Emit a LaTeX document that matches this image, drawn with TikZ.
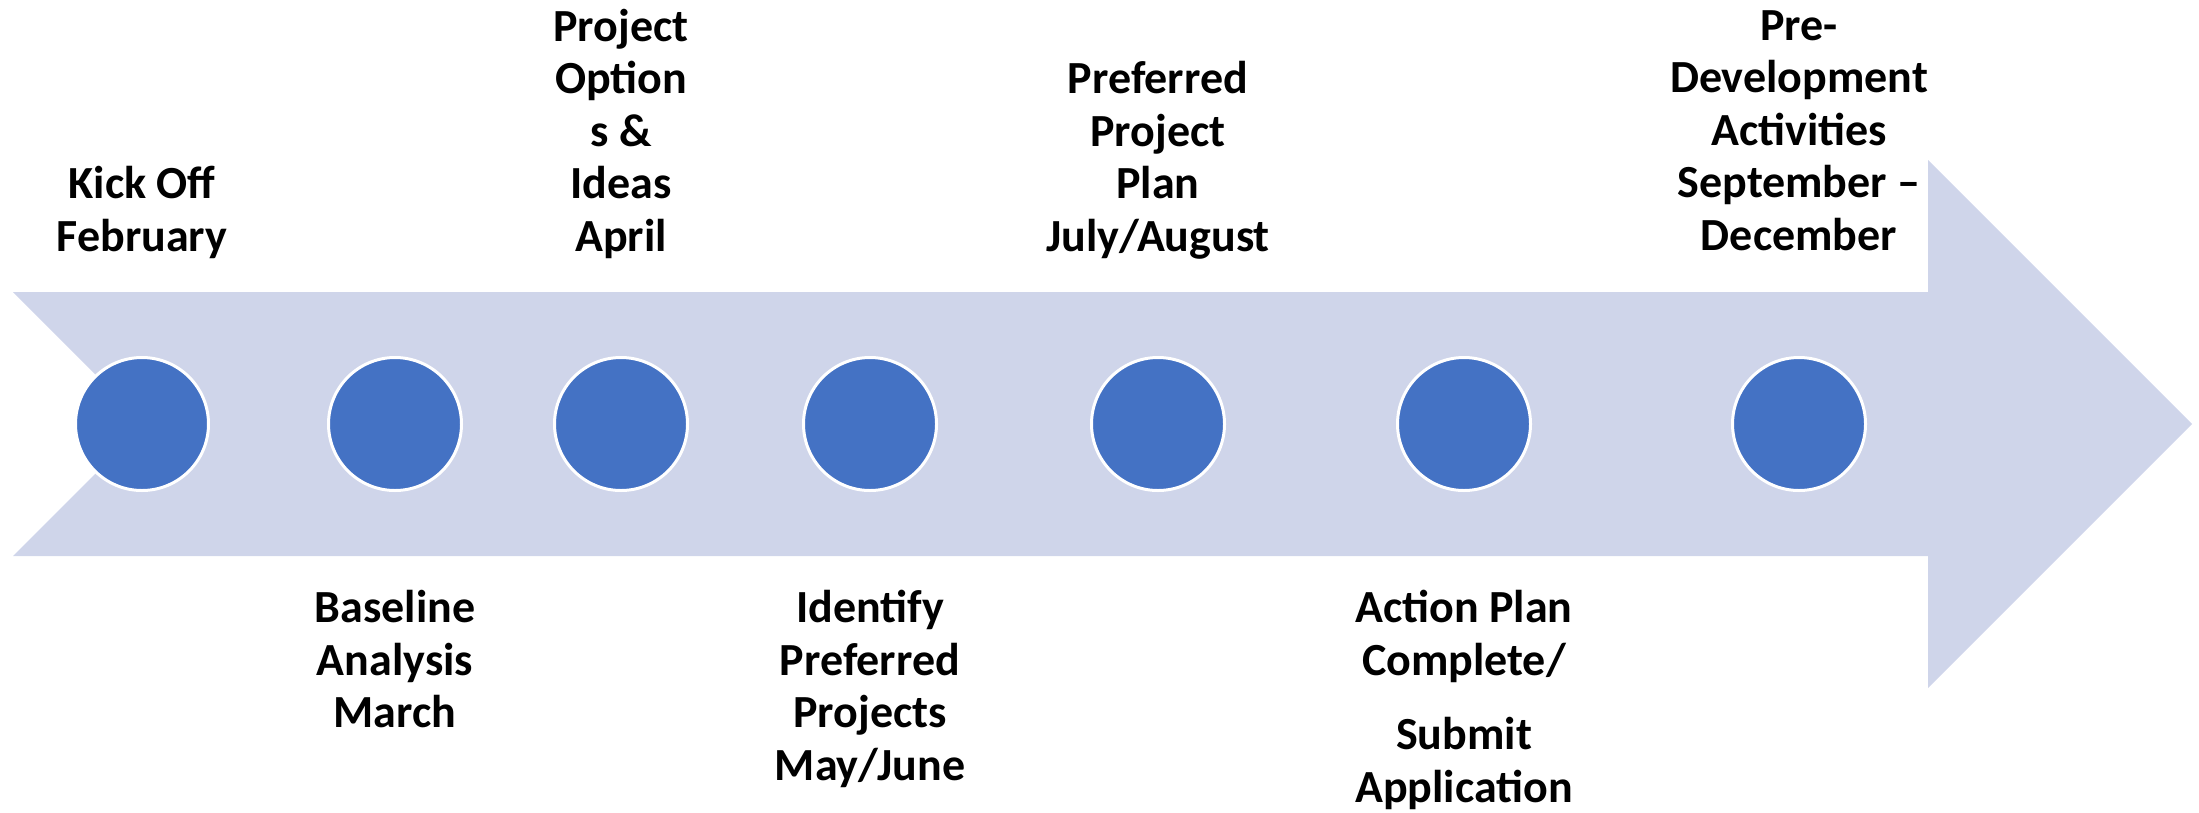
\documentclass[tikz,border=0pt]{standalone}
\usepackage{fontspec}
\setmainfont{Carlito}
\definecolor{arrowfill}{HTML}{CFD5EA}
\definecolor{dotblue}{HTML}{4472C4}
\begin{document}
\begin{tikzpicture}[x=1pt,y=-1pt,
  dot/.style={circle,fill=dotblue,draw=white,line width=3pt,minimum size=133pt,inner sep=0pt},
  lbl/.style={align=center,inner sep=0pt,font=\fontsize{46}{52.5}\selectfont\bfseries,text=black},
  toplbl/.style={lbl,anchor=south},
  botlbl/.style={lbl,anchor=north}]
\useasboundingbox (0,0) rectangle (2199,812);
% big arrow
\fill[arrowfill] (13,292) -- (1928,292) -- (1928,160) -- (2192,424) -- (1928,688)
  -- (1928,556) -- (13,556) -- (145,424) -- cycle;
% milestones
\node[dot] (c1) at (142,424) {};
\node[dot] (c2) at (395,424) {};
\node[dot] (c3) at (621,424) {};
\node[dot] (c4) at (870,424) {};
\node[dot] (c5) at (1158,424) {};
\node[dot] (c6) at (1464,424) {};
\node[dot] (c7) at (1799,424) {};
% labels above
\node[toplbl] (l1) at (142,267) {\strut Kick Off\\\strut February};
\node[toplbl] (l3) at (621,267) {\strut Project\\\strut Option\\\strut s \&\\\strut Ideas\\\strut April};
\node[toplbl] (l5) at (1158,267) {\strut Preferred\\\strut Project\\\strut Plan\\\strut July/August};
\node[toplbl] (l7) at (1799,266) {\strut Pre-\\\strut Development\\\strut Activities\\\strut September --\\\strut December};
% labels below
\node[botlbl] (l2) at (395,586) {\strut Baseline\\\strut Analysis\\\strut March};
\node[botlbl] (l4) at (870,586) {\strut Identify\\\strut Preferred\\\strut Projects\\\strut May/June};
\node[botlbl] (l6) at (1464,586) {\strut Action Plan\\\strut Complete/\\[22pt]\strut Submit\\\strut Application};
\end{tikzpicture}
\end{document}
